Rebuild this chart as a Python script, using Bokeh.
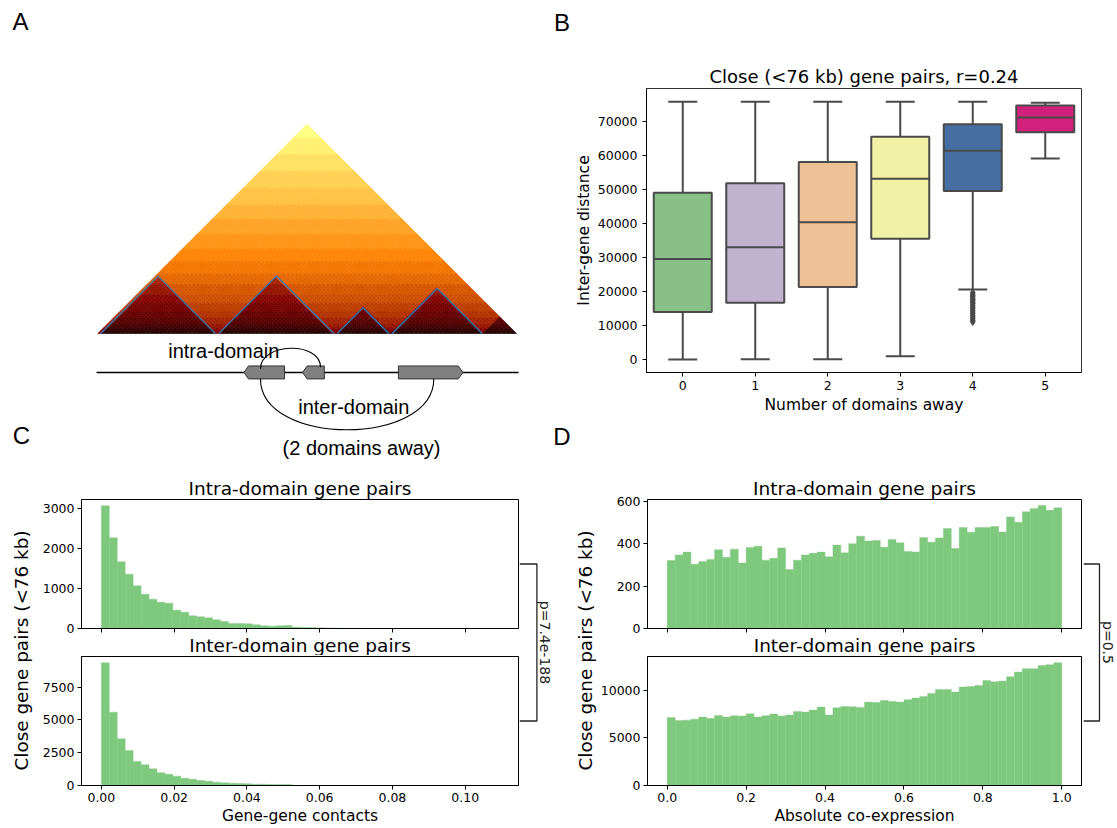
import math
from bokeh.plotting import figure
from bokeh.models import (Range1d, FixedTicker, ColumnDataSource, Title,
                          LinearColorMapper, NumeralTickFormatter)
from bokeh.layouts import row, column
from bokeh.transform import transform
from bokeh.embed import file_html
from bokeh.resources import INLINE
from bokeh.core.properties import value

FONT = "DejaVu Sans"
SANS = "Liberation Sans"
HIST_GREEN = "#7fc97f"
BOX_GRAY = "#4a4a4a"

# ---------------- Panel A (schematic Hi-C triangle) ----------------
hic_n_bins = 100
hic_domains = [[0.7, 28.1], [28.9, 56.4], [57.2, 69.5], [70.3, 91.8]]
hic_edge_block = [92.0, 100.0]
hic_dist_edges = [0, 1, 3, 5, 8, 11, 15, 19, 24, 29, 35, 41, 48, 55, 62, 70, 78, 86, 94, 101]
hic_level_outside = [0.20, 0.25, 0.29, 0.32, 0.35, 0.37, 0.40, 0.42, 0.45, 0.48,
                     0.51, 0.54, 0.57, 0.60, 0.63, 0.66, 0.69, 0.72, 0.75]
hic_level_inside = [0.05, 0.09, 0.13, 0.17, 0.20, 0.23, 0.26, 0.29, 0.32, 0.35,
                    0.38, 0.41, 0.44, 0.47, 0.50, 0.53, 0.56, 0.59, 0.62]

gene_starts = [34.9, 48.9, 71.8]
gene_ends = [44.6, 54.1, 87.2]
gene_strands = [-1, -1, 1]
gene_line_span = [-0.3, 100.5]
gene_line_y = -9.3
gene_half_height = 1.55
gene_tip = 1.1

arc_intra = [38.85, -8.4, 53.2, -8.05, 4.7]     # x0, y0, x1, y1, bulge (up)
arc_inter = [38.85, -10.8, 80.25, -10.8, -12.2]  # bulge down

# ---------------- Panel B (box plot) ----------------
b_categories = [0, 1, 2, 3, 4, 5]
b_tick_labels = ["0", "1", "2", "3", "4", "5"]
b_whisker_low = [0, 100, 100, 1000, 20600, 59200]
b_q1 = [14000, 16700, 21400, 35600, 49600, 66900]
b_median = [29600, 33100, 40400, 53200, 61500, 71300]
b_q3 = [49100, 51900, 58200, 65600, 69300, 74800]
b_whisker_high = [75900, 75900, 75900, 75900, 75900, 75600]
b_outlier_values = [19700, 19300, 18900, 18500, 18100, 17700, 17300, 16900, 16500,
                    16000, 15500, 15000, 14500, 14000, 13500, 13000, 12500, 12000,
                    11500, 11100]
b_outlier_category = 4
b_colors = ["#88c088", "#bfb3cf", "#eec095", "#f2f2a6", "#476ea1", "#d2207d"]
b_yticks = [0, 10000, 20000, 30000, 40000, 50000, 60000, 70000]

# ---------------- Panel C (gene-gene contacts) ----------------
c_bin_width = 0.002184
c_intra_counts = [3067, 2267, 1667, 1358, 1067, 858, 733, 658, 633, 458,
                  408, 317, 292, 267, 217, 175, 125, 125, 117, 92,
                  67, 58, 67, 75, 33, 28, 22, 18, 14, 10,
                  7, 5, 4, 3, 2, 2, 1, 1, 1, 1,
                  0, 0, 0, 0, 0, 0, 0, 0, 0, 1]
c_inter_counts = [9357, 5594, 3560, 2670, 1831, 1576, 1271, 966, 864, 712,
                  559, 483, 381, 330, 254, 203, 178, 153, 127, 102,
                  102, 76, 76, 76, 4, 3, 2, 2, 1, 1,
                  1, 0, 0, 0, 0, 0, 0, 0, 0, 0,
                  0, 0, 0, 0, 0, 0, 0, 0, 0, 0]
c_xticks = [0.0, 0.02, 0.04, 0.06, 0.08, 0.10]
c_intra_yticks = [0, 1000, 2000, 3000]
c_inter_yticks = [0, 2500, 5000, 7500]
c_pvalue = "p=7.4e-188"

# ---------------- Panel D (absolute co-expression) ----------------
d_bin_width = 0.02
d_intra_counts = [320, 347, 360, 303, 316, 325, 371, 336, 374, 309,
                  382, 388, 322, 331, 380, 278, 322, 347, 355, 360,
                  338, 393, 357, 400, 435, 412, 415, 383, 419, 404,
                  363, 361, 429, 407, 427, 471, 377, 476, 454, 476,
                  476, 481, 455, 526, 501, 550, 565, 580, 557, 569]
d_inter_counts = [7158, 6842, 6877, 6982, 7193, 7053, 7368, 7193, 7333, 7298,
                  7544, 7193, 7333, 7509, 7298, 7404, 7789, 7719, 7930, 8246,
                  7404, 8175, 8316, 8281, 8211, 8772, 8737, 8947, 8842, 8772,
                  9018, 9193, 9368, 9684, 10105, 10105, 9825, 10351, 10421, 10526,
                  11053, 10912, 10982, 11439, 11930, 12281, 12281, 12632, 12702, 12912]
d_xticks = [0.0, 0.2, 0.4, 0.6, 0.8, 1.0]
d_intra_yticks = [0, 200, 400, 600]
d_inter_yticks = [0, 5000, 10000]
d_pvalue = "p=0.5"

title_intra = "Intra-domain gene pairs"
title_inter = "Inter-domain gene pairs"
ylabel_hist = "Close gene pairs (<76 kb)"

# ---------------- layout constants (pixels) ----------------
ROW1_H = 460
ROW2_H = 368
A_W = 571
TOP_H, BOT_H = 195, 173
TOP_BT, BOT_BT, FRAME_H = 39, 1, 129
C_LEFT_W = 33
C_FRAME_LEFT = 81
D_FRAME_LEFT = 644
D_LEFT_W = 26


def afmhot_hex(x):
    r = min(1.0, max(0.0, 2 * x))
    g = min(1.0, max(0.0, 2 * x - 0.5))
    b = min(1.0, max(0.0, 2 * x - 1.0))
    return "#%02x%02x%02x" % (int(round(r * 255)), int(round(g * 255)), int(round(b * 255)))


def blank_fig(w, h, xr, yr):
    p = figure(width=w, height=h, x_range=Range1d(*xr), y_range=Range1d(*yr),
               x_axis_type=None, y_axis_type=None, min_border=0,
               output_backend="svg", toolbar_location=None)
    p.outline_line_color = None
    p.grid.visible = False
    p.background_fill_color = "white"
    p.border_fill_color = "white"
    return p


# ================= Figure A (also carries the panel letters) =================
s = 100 / 418.7
pA = blank_fig(A_W, ROW1_H, (-97.3 * s, (A_W - 97.3) * s), (-(ROW1_H - 333) * s, 333 * s))

w = 100.0 / hic_n_bins
xs, ys, vals = [], [], []
blocks = hic_domains + [hic_edge_block]
for i in range(hic_n_bins):
    for j in range(i, hic_n_bins):
        d = j - i
        k = max(idx for idx, e in enumerate(hic_dist_edges[:-1]) if e <= d)
        ci, cj = (i + 0.5) * w, (j + 0.5) * w
        inside = any(a <= ci and cj <= b for a, b in blocks)
        v = hic_level_inside[k] if inside else hic_level_outside[k]
        if i == j:
            px = [i * w, (i + 0.5) * w, (i + 1) * w]
            py = [0, 0.5 * w, 0]
        else:
            px = [(i + j) / 2 * w, (i + j + 1) / 2 * w, (i + j + 2) / 2 * w, (i + j + 1) / 2 * w]
            py = [(j - i) / 2 * w, (j + 1 - i) / 2 * w, (j - i) / 2 * w, (j - i - 1) / 2 * w]
        xs.append(px)
        ys.append(py)
        vals.append(v)

palette = [afmhot_hex(t / 255.0) for t in range(256)]
mapper = LinearColorMapper(palette=palette, low=0, high=1)
hic_src = ColumnDataSource(dict(xs=xs, ys=ys, v=vals))
pA.patches("xs", "ys", source=hic_src, fill_color=transform("v", mapper),
           line_color=transform("v", mapper), line_width=0.6)

dom_xs = [[a, (a + b) / 2, b] for a, b in hic_domains]
dom_ys = [[0, (b - a) / 2, 0] for a, b in hic_domains]
pA.multi_line(dom_xs, dom_ys, line_color="#3a78b5", line_width=1.3)

pA.line(gene_line_span, [gene_line_y, gene_line_y], line_color="black", line_width=1.6)
g_xs, g_ys = [], []
for a, b, st in zip(gene_starts, gene_ends, gene_strands):
    top, bot = gene_line_y + gene_half_height, gene_line_y - gene_half_height
    if st < 0:
        g_xs.append([a, a + gene_tip, b, b, a + gene_tip])
        g_ys.append([gene_line_y, top, top, bot, bot])
    else:
        g_xs.append([a, b - gene_tip, b, b - gene_tip, a])
        g_ys.append([top, top, gene_line_y, bot, bot])
pA.patches(g_xs, g_ys, fill_color="#808080", line_color="#333333", line_width=1)

for x0, y0, x1, y1, bulge in (arc_intra, arc_inter):
    k = bulge / 0.75
    pA.bezier(x0=[x0], y0=[y0], x1=[x1], y1=[y1], cx0=[x0], cy0=[y0 + k],
              cx1=[x1], cy1=[y1 + k], line_color="black", line_width=1.1)


def a_text(px, py, txt, size):
    pA.text(x=[(px - 97.3) * s], y=[(333 - py) * s], text=[txt], text_align="center",
            text_baseline="middle", text_font=value(SANS), text_font_size=size, text_color="black")


a_text(223.3, 350.7, "intra-domain", "20px")
a_text(353.3, 406.7, "inter-domain", "20px")
a_text(361.0, 447.3, "(2 domains away)", "20px")
a_text(20, 21, "A", "24px")
a_text(21, 434.7, "C", "24px")
a_text(561.5, 22, "B", "24px")
a_text(561.5, 436, "D", "24px")


def style_title(t, size):
    t.text_font = FONT
    t.text_font_style = "normal"
    t.text_color = "black"
    t.align = "center"
    t.text_font_size = size


def style_axes(p, outline="black"):
    p.grid.visible = False
    p.outline_line_color = outline
    p.outline_line_width = 1
    p.background_fill_color = "white"
    p.border_fill_color = "white"
    for ax in p.axis:
        ax.major_tick_in = 0
        ax.major_tick_out = 4
        ax.minor_tick_line_color = None
        ax.axis_line_color = "black"
        ax.major_tick_line_color = "black"
        ax.major_label_text_font = FONT
        ax.major_label_text_font_size = "12.5px"
        ax.major_label_text_color = "black"
        ax.axis_label_text_font = FONT
        ax.axis_label_text_font_style = "normal"
        ax.axis_label_text_color = "black"


# ================= Figure B =================
B_W = 1117 - A_W
B_BL = 644 - A_W
pB = figure(width=B_W, height=ROW1_H, x_range=Range1d(-0.5, 5.5), y_range=Range1d(-3800, 79800),
            min_border_left=B_BL, min_border_right=B_W - B_BL - 437, min_border_top=88,
            min_border_bottom=ROW1_H - 88 - 284,
            title="Close (<76 kb) gene pairs, r=0.24", output_backend="svg", toolbar_location=None)
style_axes(pB, outline="#333333")
style_title(pB.title, "18px")
pB.title.standoff = 3
pB.xaxis.ticker = FixedTicker(ticks=b_categories)
pB.xaxis.major_label_overrides = {c: l for c, l in zip(b_categories, b_tick_labels)}
pB.yaxis.ticker = FixedTicker(ticks=b_yticks)
pB.xaxis.axis_label = "Number of domains away"
pB.yaxis.axis_label = "Inter-gene distance"
pB.xaxis.axis_label_text_font_size = "15.5px"
pB.yaxis.axis_label_text_font_size = "15.5px"
pB.xaxis.major_label_standoff = 4
pB.yaxis.major_label_standoff = 5
pB.xaxis.axis_label_standoff = 3
pB.yaxis.axis_label_standoff = 2

box_w = 0.8
cap_half = box_w / 4
pB.segment(x0=b_categories, y0=b_q3, x1=b_categories, y1=b_whisker_high, line_color=BOX_GRAY, line_width=2)
pB.segment(x0=b_categories, y0=b_whisker_low, x1=b_categories, y1=b_q1, line_color=BOX_GRAY, line_width=2)
pB.segment(x0=[c - cap_half for c in b_categories], y0=b_whisker_high,
           x1=[c + cap_half for c in b_categories], y1=b_whisker_high, line_color=BOX_GRAY, line_width=2)
pB.segment(x0=[c - cap_half for c in b_categories], y0=b_whisker_low,
           x1=[c + cap_half for c in b_categories], y1=b_whisker_low, line_color=BOX_GRAY, line_width=2)
pB.vbar(x=b_categories, width=box_w, bottom=b_q1, top=b_q3, fill_color=b_colors,
        line_color=BOX_GRAY, line_width=2)
pB.segment(x0=[c - box_w / 2 for c in b_categories], y0=b_median,
           x1=[c + box_w / 2 for c in b_categories], y1=b_median, line_color=BOX_GRAY, line_width=2)
pB.scatter(x=[b_outlier_category] * len(b_outlier_values), y=b_outlier_values, marker="diamond",
           size=7, fill_color=BOX_GRAY, line_color=BOX_GRAY)


# ================= histogram helper =================
def make_hist(width, bl, br, top, counts, bw, xr, ymax, yticks, xticks, xfmt, xlabel):
    h = TOP_H if top else BOT_H
    bt = TOP_BT if top else BOT_BT
    bb = h - bt - FRAME_H
    p = figure(width=width, height=h, x_range=Range1d(*xr), y_range=Range1d(0, ymax),
               min_border_left=bl, min_border_right=br, min_border_top=bt, min_border_bottom=bb,
               title=(title_intra if top else None), output_backend="svg", toolbar_location=None)
    style_axes(p)
    if top:
        style_title(p.title, "18.5px")
        p.title.standoff = 2
        sub = Title(text=title_inter, standoff=0)
        style_title(sub, "18.5px")
        p.add_layout(sub, "below")
    left = [k * bw for k in range(len(counts))]
    right = [(k + 1) * bw for k in range(len(counts))]
    p.quad(left=left, right=right, bottom=0, top=counts, fill_color=HIST_GREEN,
           line_color=HIST_GREEN, line_width=0.4)
    p.yaxis.ticker = FixedTicker(ticks=yticks)
    p.yaxis.major_label_standoff = 3
    p.xaxis.ticker = FixedTicker(ticks=xticks)
    p.xaxis.formatter = NumeralTickFormatter(format=xfmt)
    if top:
        p.xaxis.major_label_text_color = None
        p.xaxis.major_label_standoff = 0
    else:
        p.xaxis.axis_label = xlabel
        p.xaxis.axis_label_text_font_size = "15.5px"
        p.xaxis.major_label_standoff = 3
        p.xaxis.axis_label_standoff = 2
    return p


def side_label_fig(w, cx, text):
    p = blank_fig(w, ROW2_H, (0, w), (0, ROW2_H))
    p.text(x=[cx], y=[ROW2_H - 190], text=[text], angle=math.pi / 2, text_align="center",
           text_baseline="middle", text_font=value(FONT), text_font_size="18.4px", text_color="black")
    return p


def bracket_fig(w, arm, cx, text):
    p = blank_fig(w, ROW2_H, (0, w), (0, ROW2_H))
    y_top = ROW2_H - (TOP_BT + FRAME_H / 2)
    y_bot = ROW2_H - (TOP_H + BOT_BT + FRAME_H / 2)
    p.line([0, arm, arm, 0], [y_top, y_top, y_bot, y_bot], line_color="#222222", line_width=1.3)
    p.text(x=[cx], y=[ROW2_H - 182], text=[text], angle=-math.pi / 2, text_align="center",
           text_baseline="middle", text_font=value(FONT), text_font_size="14px", text_color="#222222")
    return p


C_W = 519 - C_LEFT_W
C_BL = C_FRAME_LEFT - C_LEFT_W
c_xr = (-0.00546, 0.11466)
pC_top = make_hist(C_W, C_BL, 1, True, c_intra_counts, c_bin_width, c_xr, 3225, c_intra_yticks,
                   c_xticks, "0.00", None)
pC_bot = make_hist(C_W, C_BL, 1, False, c_inter_counts, c_bin_width, c_xr, 9840, c_inter_yticks,
                   c_xticks, "0.00", "Gene-gene contacts")
pC_left = side_label_fig(C_LEFT_W, 21, ylabel_hist)
pC_right = bracket_fig(A_W - 519, 17.4, 25.6, c_pvalue)

D_X0 = A_W + D_LEFT_W
D_W = 1083 - D_X0
D_BL = D_FRAME_LEFT - D_X0
d_xr = (-0.05, 1.05)
pD_top = make_hist(D_W, D_BL, D_W - D_BL - 437, True, d_intra_counts, d_bin_width, d_xr, 608,
                   d_intra_yticks, d_xticks, "0.0", None)
pD_bot = make_hist(D_W, D_BL, D_W - D_BL - 437, False, d_inter_counts, d_bin_width, d_xr, 13570,
                   d_inter_yticks, d_xticks, "0.0", "Absolute co-expression")
pD_left = side_label_fig(D_LEFT_W, 585 - A_W, ylabel_hist)
pD_right = bracket_fig(1117 - 1083, 16, 24.3, d_pvalue)

left_col = column(pA, row(pC_left, column(pC_top, pC_bot), pC_right))
right_col = column(pB, row(pD_left, column(pD_top, pD_bot), pD_right))
layout = row(left_col, right_col)

open("out.html", "w").write(file_html(layout, INLINE))
